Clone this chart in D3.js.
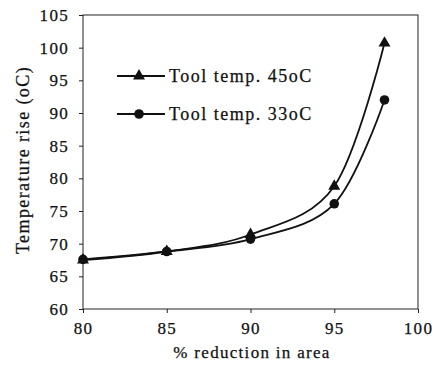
<!DOCTYPE html>
<meta charset="utf-8">
<style>
body { margin: 0; background: #fff; }
text { font-family: "Liberation Serif", "Times New Roman", serif; fill: #111; stroke: #111; stroke-width: 0.25px; }
.tick text { font-size: 17px; letter-spacing: 1.3px; }
</style>
<svg width="435" height="367"></svg>
<script src="https://cdn.jsdelivr.net/npm/d3@7"></script>
<script>

var reduction = [80, 85, 90, 95, 98];
var temp45 = [67.5, 68.8, 71.4, 78.8, 100.7];
var temp33 = [67.6, 68.8, 70.7, 76.1, 92.0];
var xTicks = [80, 85, 90, 95, 100];
var yTicks = [60, 65, 70, 75, 80, 85, 90, 95, 100, 105];

var svg = d3.select("svg"),
    mLeft = 83, mTop = 15, mRight = 418, mBottom = 309;

var x = d3.scaleLinear().domain([80, 100]).range([mLeft, mRight]),
    y = d3.scaleLinear().domain([60, 105]).range([mBottom, mTop]);

// frame
svg.append("rect")
    .attr("x", mLeft).attr("y", mTop)
    .attr("width", mRight - mLeft).attr("height", mBottom - mTop)
    .attr("fill", "none").attr("stroke", "#222").attr("stroke-width", 1);

svg.append("g")
    .attr("transform", "translate(0," + mBottom + ")")
    .call(d3.axisBottom(x).tickValues(xTicks).tickSize(4).tickPadding(9));
svg.append("g")
    .attr("transform", "translate(" + mLeft + ",0)")
    .call(d3.axisLeft(y).tickValues(yTicks).tickSize(4).tickPadding(10));
svg.selectAll(".domain").remove();
svg.selectAll(".tick line").attr("stroke", "#222");
svg.selectAll(".tick text").attr("fill", "#111");

svg.append("text")
    .attr("x", 252).attr("y", 358)
    .attr("text-anchor", "middle")
    .style("font-size", "17px")
    .style("letter-spacing", "1.3px")
    .text("% reduction in area");

svg.append("text")
    .attr("transform", "translate(29,160) rotate(-90)")
    .attr("text-anchor", "middle")
    .style("font-size", "18px")
    .style("letter-spacing", "1.4px")
    .text("Temperature rise (oC)");

var line = d3.line()
    .x(function(d) { return x(d[0]); })
    .y(function(d) { return y(d[1]); })
    .curve(d3.curveCatmullRom.alpha(0));

var s45 = d3.zip(reduction, temp45),
    s33 = d3.zip(reduction, temp33);

[s45, s33].forEach(function(s) {
  svg.append("path")
      .datum(s)
      .attr("fill", "none")
      .attr("stroke", "#111")
      .attr("stroke-width", 1.8)
      .attr("d", line);
});

var tri = d3.symbol().type(d3.symbolTriangle).size(62);

svg.selectAll(".tri").data(s45).enter().append("path")
    .attr("class", "tri")
    .attr("transform", function(d) { return "translate(" + x(d[0]) + "," + y(d[1]) + ")"; })
    .attr("d", tri)
    .attr("fill", "#111");

svg.selectAll(".dot").data(s33).enter().append("circle")
    .attr("class", "dot")
    .attr("cx", function(d) { return x(d[0]); })
    .attr("cy", function(d) { return y(d[1]); })
    .attr("r", 4.8)
    .attr("fill", "#111");

// legend
var legend = [
  { label: "Tool temp. 45oC", y: 76, mark: "tri" },
  { label: "Tool temp. 33oC", y: 114, mark: "dot" }
];
legend.forEach(function(l) {
  var g = svg.append("g");
  g.append("line")
      .attr("x1", 117).attr("x2", 165)
      .attr("y1", l.y).attr("y2", l.y)
      .attr("stroke", "#111").attr("stroke-width", 1.8);
  if (l.mark === "tri") {
    g.append("path").attr("transform", "translate(139," + l.y + ")")
        .attr("d", tri).attr("fill", "#111");
  } else {
    g.append("circle").attr("cx", 139).attr("cy", l.y).attr("r", 4.8).attr("fill", "#111");
  }
  g.append("text")
      .attr("x", 169).attr("y", l.y + 6)
      .style("font-size", "18px")
      .style("letter-spacing", "1.5px")
      .text(l.label);
});

</script>
